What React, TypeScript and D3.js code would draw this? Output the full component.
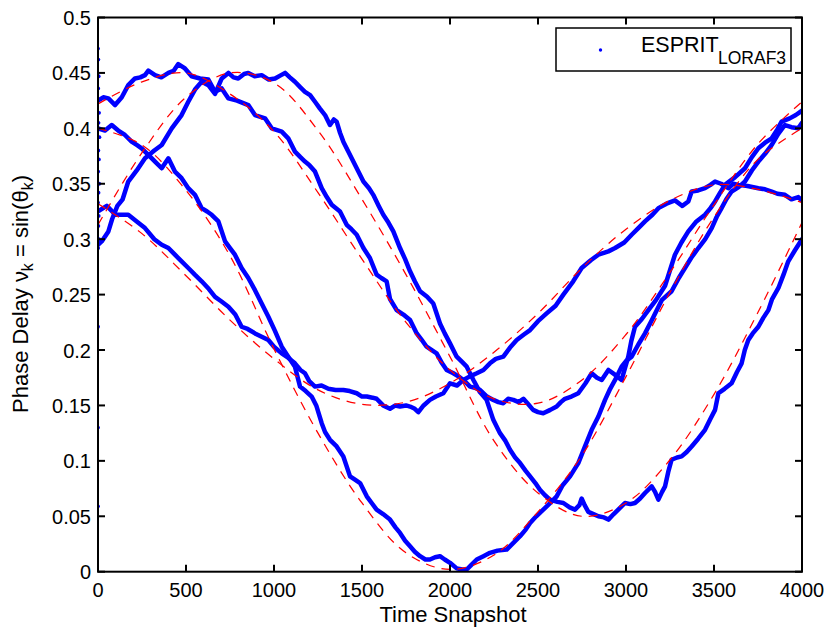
import React from "react";
import * as d3 from "d3";

// ---------- data ----------
const X_TICKS = [0, 500, 1000, 1500, 2000, 2500, 3000, 3500, 4000];
const Y_TICKS = [0, 0.05, 0.1, 0.15, 0.2, 0.25, 0.3, 0.35, 0.4, 0.45, 0.5];
const Y_TICK_LABELS = ["0", "0.05", "0.1", "0.15", "0.2", "0.25", "0.3", "0.35", "0.4", "0.45", "0.5"];

// true trajectories (red dashed), sampled every 250 snapshots
const TRUE_T = [0, 250, 500, 750, 1000, 1250, 1500, 1750, 2000, 2250, 2500, 2750, 3000, 3250, 3500, 3750, 4000];
const TRUE_P = [0.332, 0.305, 0.267, 0.227, 0.192, 0.164, 0.151, 0.153, 0.170, 0.198, 0.233, 0.274, 0.309, 0.335, 0.349, 0.345, 0.333];
const TRUE_Q = [0.400, 0.385, 0.344, 0.285, 0.201, 0.125, 0.062, 0.017, 0.002, 0.015, 0.054, 0.105, 0.176, 0.252, 0.320, 0.372, 0.400];
const TRUE_R = [0.422, 0.442, 0.450, 0.431, 0.397, 0.342, 0.282, 0.225, 0.182, 0.156, 0.152, 0.173, 0.214, 0.270, 0.331, 0.386, 0.424];
const TRUE_S = [0.313, 0.378, 0.428, 0.450, 0.441, 0.398, 0.336, 0.268, 0.194, 0.118, 0.071, 0.050, 0.062, 0.101, 0.160, 0.234, 0.315];

// ESPRIT_LORAF3 estimates (blue), [snapshot, value]
const EST_P: [number, number][] = [[0,0.325],[50,0.330],[100,0.322],[172,0.322],[220,0.316],[267,0.310],[320,0.300],[362,0.295],[400,0.292],[437,0.286],[475,0.280],[513,0.274],[550,0.268],[589,0.262],[630,0.255],[665,0.248],[700,0.244],[741,0.239],[780,0.232],[816,0.221],[850,0.219],[892,0.215],[930,0.212],[968,0.209],[1000,0.203],[1044,0.197],[1080,0.193],[1119,0.188],[1150,0.182],[1176,0.179],[1200,0.172],[1233,0.167],[1270,0.168],[1309,0.165],[1350,0.164],[1394,0.164],[1430,0.163],[1470,0.161],[1500,0.158],[1527,0.158],[1560,0.157],[1583,0.156],[1620,0.150],[1659,0.147],[1690,0.150],[1716,0.149],[1750,0.150],[1773,0.149],[1800,0.147],[1820,0.144],[1850,0.150],[1886,0.155],[1920,0.158],[1962,0.161],[2000,0.170],[2040,0.168],[2076,0.173],[2110,0.176],[2152,0.179],[2190,0.182],[2227,0.188],[2260,0.192],[2303,0.194],[2340,0.202],[2379,0.209],[2420,0.214],[2455,0.218],[2500,0.226],[2549,0.233],[2600,0.240],[2644,0.250],[2700,0.262],[2748,0.274],[2800,0.281],[2843,0.286],[2900,0.289],[2938,0.292],[2990,0.297],[3032,0.304],[3070,0.310],[3108,0.316],[3150,0.322],[3184,0.328],[3230,0.332],[3278,0.335],[3320,0.330],[3354,0.334],[3373,0.343],[3410,0.344],[3449,0.346],[3480,0.349],[3506,0.352],[3540,0.350],[3581,0.346],[3610,0.350],[3638,0.349],[3690,0.348],[3752,0.346],[3790,0.345],[3828,0.343],[3860,0.341],[3903,0.340],[3940,0.336],[3979,0.338],[4000,0.335]];

const EST_Q: [number, number][] = [[0,0.400],[40,0.398],[78,0.403],[115,0.398],[153,0.394],[191,0.388],[220,0.385],[248,0.382],[286,0.376],[324,0.370],[362,0.364],[400,0.373],[437,0.361],[475,0.355],[513,0.346],[551,0.340],[589,0.328],[620,0.325],[646,0.322],[684,0.316],[722,0.298],[750,0.292],[778,0.286],[816,0.274],[854,0.265],[892,0.254],[930,0.242],[968,0.230],[1006,0.217],[1044,0.203],[1081,0.194],[1119,0.185],[1148,0.167],[1180,0.163],[1214,0.158],[1240,0.150],[1271,0.134],[1290,0.126],[1318,0.119],[1356,0.113],[1394,0.104],[1432,0.086],[1460,0.083],[1489,0.080],[1527,0.068],[1555,0.062],[1583,0.056],[1620,0.052],[1659,0.047],[1690,0.040],[1716,0.035],[1745,0.028],[1773,0.023],[1800,0.018],[1830,0.014],[1860,0.011],[1886,0.011],[1915,0.013],[1943,0.014],[1970,0.011],[2000,0.008],[2038,0.003],[2070,0.002],[2095,0.002],[2120,0.006],[2152,0.011],[2190,0.014],[2227,0.017],[2270,0.019],[2322,0.020],[2360,0.026],[2398,0.032],[2430,0.038],[2455,0.044],[2490,0.050],[2530,0.056],[2570,0.062],[2606,0.068],[2640,0.078],[2682,0.086],[2729,0.098],[2767,0.113],[2805,0.128],[2843,0.140],[2881,0.155],[2910,0.165],[2938,0.173],[2975,0.185],[3000,0.190],[3032,0.194],[3070,0.205],[3108,0.215],[3150,0.228],[3203,0.245],[3259,0.253],[3300,0.265],[3335,0.274],[3370,0.283],[3411,0.292],[3450,0.300],[3487,0.310],[3515,0.320],[3543,0.328],[3570,0.336],[3600,0.343],[3640,0.347],[3676,0.352],[3715,0.362],[3752,0.370],[3790,0.377],[3828,0.385],[3865,0.395],[3903,0.403],[3940,0.401],[3979,0.400],[4000,0.405]];

const EST_R: [number, number][] = [[0,0.425],[30,0.428],[59,0.427],[97,0.421],[135,0.428],[172,0.439],[210,0.445],[240,0.446],[267,0.448],[286,0.452],[324,0.448],[360,0.446],[400,0.450],[430,0.452],[456,0.458],[494,0.454],[532,0.447],[580,0.445],[627,0.444],[665,0.433],[703,0.436],[741,0.427],[790,0.425],[854,0.421],[892,0.412],[949,0.409],[987,0.400],[1044,0.397],[1081,0.391],[1119,0.379],[1150,0.374],[1176,0.370],[1200,0.367],[1233,0.361],[1271,0.346],[1300,0.338],[1328,0.331],[1375,0.325],[1413,0.313],[1440,0.309],[1470,0.304],[1508,0.292],[1545,0.283],[1583,0.268],[1610,0.265],[1640,0.262],[1659,0.246],[1697,0.236],[1735,0.232],[1773,0.227],[1811,0.215],[1840,0.209],[1867,0.203],[1924,0.197],[1955,0.188],[1981,0.182],[2019,0.179],[2050,0.176],[2076,0.173],[2114,0.167],[2140,0.166],[2170,0.164],[2210,0.158],[2246,0.155],[2275,0.153],[2303,0.152],[2330,0.156],[2360,0.155],[2390,0.153],[2417,0.156],[2445,0.151],[2472,0.146],[2500,0.144],[2530,0.143],[2570,0.146],[2606,0.149],[2630,0.153],[2653,0.156],[2690,0.158],[2729,0.161],[2770,0.170],[2805,0.179],[2835,0.175],[2862,0.173],[2900,0.182],[2935,0.178],[2975,0.173],[3013,0.194],[3030,0.208],[3051,0.221],[3090,0.228],[3127,0.236],[3170,0.245],[3222,0.258],[3250,0.272],[3278,0.286],[3315,0.297],[3354,0.307],[3400,0.316],[3449,0.322],[3480,0.328],[3506,0.334],[3535,0.342],[3562,0.349],[3620,0.356],[3676,0.364],[3715,0.374],[3752,0.382],[3790,0.387],[3828,0.391],[3860,0.399],[3884,0.406],[3930,0.409],[3965,0.412],[4000,0.416]];

const EST_S: [number, number][] = [[0,0.295],[21,0.298],[59,0.307],[80,0.318],[110,0.330],[140,0.336],[172,0.352],[220,0.362],[267,0.373],[320,0.380],[362,0.385],[419,0.400],[475,0.412],[513,0.424],[551,0.435],[589,0.442],[627,0.439],[665,0.431],[703,0.445],[741,0.450],[770,0.446],[797,0.445],[830,0.449],[854,0.450],[890,0.447],[930,0.448],[970,0.444],[1006,0.445],[1040,0.448],[1063,0.450],[1090,0.446],[1119,0.442],[1150,0.437],[1176,0.433],[1205,0.430],[1233,0.424],[1260,0.418],[1290,0.412],[1318,0.403],[1340,0.408],[1356,0.406],[1375,0.396],[1394,0.388],[1432,0.376],[1470,0.364],[1508,0.352],[1540,0.346],[1564,0.340],[1595,0.330],[1621,0.322],[1650,0.315],[1678,0.307],[1716,0.292],[1745,0.282],[1773,0.271],[1800,0.262],[1830,0.253],[1870,0.248],[1905,0.242],[1943,0.224],[1970,0.215],[2000,0.206],[2038,0.194],[2070,0.189],[2095,0.185],[2133,0.173],[2170,0.162],[2208,0.155],[2246,0.137],[2284,0.125],[2315,0.118],[2341,0.110],[2370,0.103],[2398,0.098],[2430,0.091],[2455,0.086],[2485,0.080],[2511,0.074],[2540,0.069],[2568,0.065],[2610,0.063],[2644,0.062],[2680,0.058],[2710,0.056],[2735,0.060],[2748,0.066],[2765,0.060],[2786,0.054],[2815,0.052],[2843,0.050],[2875,0.049],[2900,0.047],[2930,0.052],[2956,0.056],[2994,0.062],[3025,0.061],[3051,0.062],[3080,0.066],[3108,0.071],[3146,0.077],[3165,0.072],[3184,0.065],[3205,0.072],[3222,0.077],[3240,0.090],[3259,0.101],[3290,0.103],[3316,0.104],[3345,0.108],[3373,0.113],[3410,0.120],[3449,0.128],[3480,0.138],[3506,0.146],[3525,0.161],[3560,0.165],[3600,0.170],[3630,0.180],[3657,0.188],[3675,0.200],[3695,0.209],[3720,0.215],[3752,0.221],[3780,0.229],[3809,0.236],[3830,0.246],[3866,0.256],[3895,0.268],[3922,0.280],[3960,0.290],[4000,0.300]];

// initial transient scatter near snapshot 0
const INIT_T = [0, 2, 4, 1, 6, 3, 8, 2, 5, 1, 7, 3, 0, 4, 2, 6, 1, 0, 0, 0];
const INIT_V = [0.472, 0.462, 0.447, 0.436, 0.414, 0.405, 0.392, 0.380, 0.372, 0.361, 0.350, 0.342, 0.333, 0.321, 0.312, 0.300, 0.292, 0.221, 0.130, 0.059];

const ESTIMATES = [EST_P, EST_Q, EST_R, EST_S];
const TRUTHS = [TRUE_P, TRUE_Q, TRUE_R, TRUE_S];

// ---------- layout ----------
const W = 828, H = 629;
const X0 = 98, X1 = 802, Y0 = 571.7, Y1 = 17.5;
const FONT = "'Liberation Sans', Arial, Helvetica, sans-serif";

export default function App() {
  const x = d3.scaleLinear().domain([0, 4000]).range([X0, X1]);
  const y = d3.scaleLinear().domain([0, 0.5]).range([Y0, Y1]);

  const estLine = d3.line<[number, number]>().x(d => x(d[0])).y(d => y(d[1]));
  const trueLine = d3.line<number>()
    .x((_, i) => x(TRUE_T[i]))
    .y(d => y(d))
    .curve(d3.curveCatmullRom.alpha(0.5));

  const tickLen = 7;
  return (
    <svg width={W} height={H} style={{ position: "absolute", left: 0, top: 0, display: "block", background: "#fff" }}
      fontFamily={FONT}>
      <defs>
        <clipPath id="plotclip">
          <rect x={X0} y={Y1} width={X1 - X0} height={Y0 - Y1} />
        </clipPath>
      </defs>
      <rect x={0} y={0} width={W} height={H} fill="#fff" />
      <g clipPath="url(#plotclip)">
        {ESTIMATES.map((s, i) => (
          <path key={"e" + i} d={estLine(s) || ""} fill="none" stroke="#0000ff" strokeWidth={4.5}
            strokeLinejoin="round" strokeLinecap="round" />
        ))}
        {INIT_V.map((v, i) => (
          <circle key={"i" + i} cx={x(INIT_T[i])} cy={y(v)} r={1.9} fill="#0000ff" />
        ))}
        {TRUTHS.map((s, i) => (
          <path key={"t" + i} d={trueLine(s) || ""} fill="none" stroke="#ff0000" strokeWidth={1.25}
            strokeDasharray="9 7" />
        ))}
      </g>
      {/* axes box */}
      <rect x={X0} y={Y1} width={X1 - X0} height={Y0 - Y1} fill="none" stroke="#000" strokeWidth={2} />
      {X_TICKS.map((t, i) => (
        <g key={"xt" + i}>
          <line x1={x(t)} x2={x(t)} y1={Y0} y2={Y0 - tickLen} stroke="#000" strokeWidth={2} />
          <line x1={x(t)} x2={x(t)} y1={Y1} y2={Y1 + tickLen} stroke="#000" strokeWidth={2} />
          <text x={x(t)} y={597} fontSize={20} textAnchor="middle" fill="#000">{t}</text>
        </g>
      ))}
      {Y_TICKS.map((v, i) => (
        <g key={"yt" + i}>
          <line x1={X0} x2={X0 + tickLen} y1={y(v)} y2={y(v)} stroke="#000" strokeWidth={2} />
          <line x1={X1} x2={X1 - tickLen} y1={y(v)} y2={y(v)} stroke="#000" strokeWidth={2} />
          <text x={91} y={y(v) + 7.5} fontSize={20} textAnchor="end" fill="#000">{Y_TICK_LABELS[i]}</text>
        </g>
      ))}
      {/* axis labels */}
      <text x={453} y={622} fontSize={22} textAnchor="middle" fill="#000">Time Snapshot</text>
      <text transform="translate(28,294) rotate(-90)" fontSize={22} textAnchor="middle" fill="#000">
        Phase Delay ν<tspan fontSize={16} dy={5}>k</tspan><tspan dy={-5}> = sin(θ</tspan><tspan fontSize={16} dy={5}>k</tspan><tspan dy={-5}>)</tspan>
      </text>
      {/* legend */}
      <rect x={556} y={28} width={235} height={43} fill="#fff" stroke="#000" strokeWidth={1.5} />
      <circle cx={600.5} cy={50} r={1.7} fill="#0000ff" />
      <text x={641} y={52.3} fontSize={21.5} fill="#000">ESPRIT</text>
      <text x={718} y={64} fontSize={17.5} fill="#000">LORAF3</text>
    </svg>
  );
}
